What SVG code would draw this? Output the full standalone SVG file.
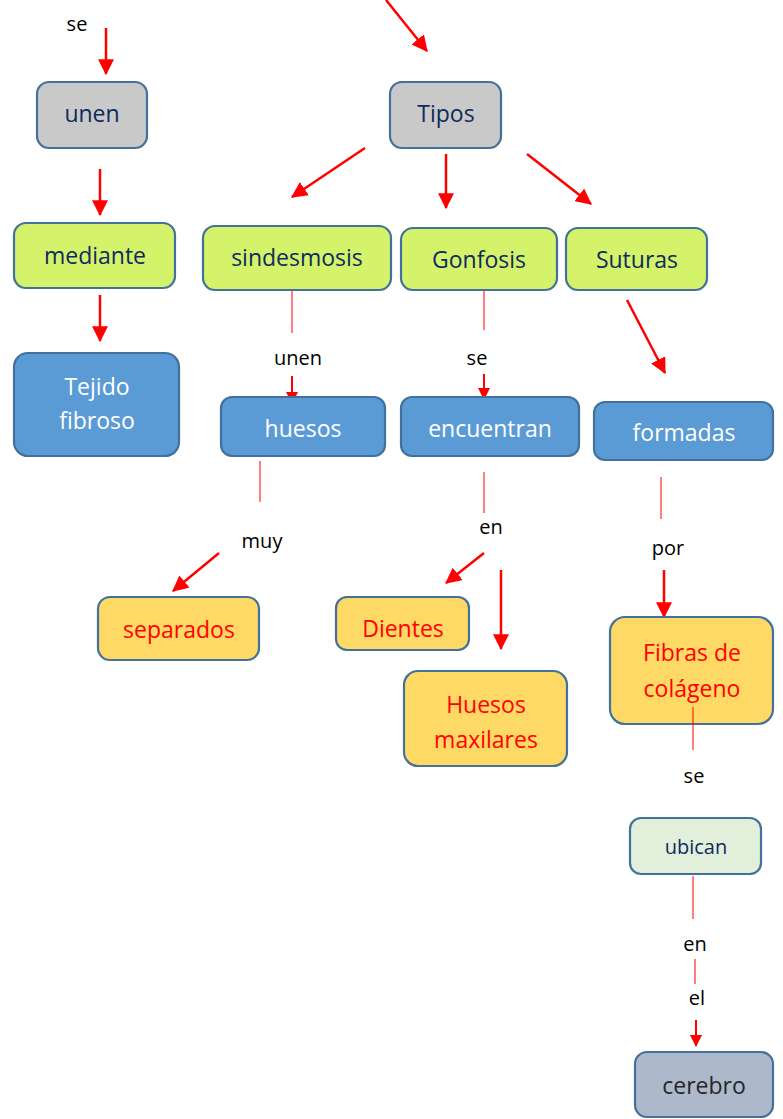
<svg xmlns="http://www.w3.org/2000/svg" width="783" height="1119" viewBox="0 0 783 1119">
<style>
.n{stroke:#41719c;stroke-width:2.2}
.gray{fill:#c9c9c9}
.lime{fill:#d5f26b}
.blue{fill:#5b9bd5}
.gold{fill:#ffd966}
.mint{fill:#e2efda}
.slate{fill:#adb9ca}
text{font-family:"Open Sans","Liberation Sans",sans-serif;text-anchor:middle}
.tn{fill:#0e2b5c;font-size:23px}
.tw{fill:#ffffff;font-size:23px}
.tr{fill:#ff0000;font-size:23px}
.lb{fill:#000000;font-size:20px}
.a{stroke:#ff0000;stroke-width:2.5;fill:none;marker-end:url(#ah)}
.as{stroke:#ff0000;stroke-width:2;fill:none;marker-end:url(#ahs)}
.l{stroke:#ff0000;stroke-width:1;fill:none}
</style>
<defs>
<marker id="ah" markerWidth="16" markerHeight="16" refX="13" refY="7" orient="auto" markerUnits="userSpaceOnUse" viewBox="0 0 14 14">
<path d="M0,0 L14,7 L0,14 Z" fill="#ff0000"/>
</marker>
<marker id="ahs" markerWidth="12" markerHeight="12" refX="11" refY="6" orient="auto" markerUnits="userSpaceOnUse" viewBox="0 0 12 12">
<path d="M0,0 L12,6 L0,12 Z" fill="#ff0000"/>
</marker>
</defs>

<g id="connectors">
<line class="a" x1="106" y1="28" x2="106" y2="74"/>
<line class="a" x1="386" y1="0" x2="427" y2="51"/>
<line class="a" x1="365" y1="148" x2="292" y2="197"/>
<line class="a" x1="446" y1="154" x2="446" y2="208"/>
<line class="a" x1="527" y1="154" x2="591" y2="204"/>
<line class="a" x1="100" y1="169" x2="100" y2="215"/>
<line class="a" x1="100" y1="295" x2="100" y2="341"/>
<line class="l" x1="292" y1="291" x2="292" y2="333"/>
<line class="as" x1="292" y1="376" x2="292" y2="403"/>
<line class="l" x1="484" y1="289" x2="484" y2="330"/>
<line class="as" x1="484" y1="374" x2="484" y2="399"/>
<line class="a" x1="627" y1="300" x2="665" y2="373"/>
<line class="l" x1="260" y1="461" x2="260" y2="502"/>
<line class="a" x1="219" y1="553" x2="173" y2="591"/>
<line class="l" x1="484" y1="472" x2="484" y2="513"/>
<line class="a" x1="484" y1="553" x2="446" y2="583"/>
<line class="a" x1="501" y1="570" x2="501" y2="649"/>
<line class="l" x1="661" y1="477" x2="661" y2="519"/>
<line class="a" x1="664" y1="570" x2="664" y2="617"/>
<line class="l" x1="693" y1="876" x2="693" y2="919"/>
<line class="l" x1="695" y1="959" x2="695" y2="984"/>
<line class="as" x1="696" y1="1020" x2="696" y2="1046"/>
</g>

<g id="n-unen"><rect class="n gray" x="37" y="82" width="110" height="66" rx="12"/><text class="tn" x="92" y="122">unen</text></g>
<g id="n-tipos"><rect class="n gray" x="390" y="82" width="111" height="66" rx="12"/><text class="tn" x="446" y="122">Tipos</text></g>
<g id="n-mediante"><rect class="n lime" x="14" y="223" width="161" height="65" rx="12"/><text class="tn" x="95" y="264">mediante</text></g>
<g id="n-tejido"><rect class="n blue" x="14" y="353" width="165" height="103" rx="14"/><text class="tw" x="97" y="395">Tejido</text><text class="tw" x="97" y="429">fibroso</text></g>
<g id="n-sindesmosis"><rect class="n lime" x="203" y="226" width="188" height="64" rx="12"/><text class="tn" x="297" y="266">sindesmosis</text></g>
<g id="n-gonfosis"><rect class="n lime" x="401" y="228" width="156" height="62" rx="12"/><text class="tn" x="479" y="268">Gonfosis</text></g>
<g id="n-suturas"><rect class="n lime" x="566" y="228" width="141" height="62" rx="12"/><text class="tn" x="637" y="268">Suturas</text></g>
<g id="n-huesos"><rect class="n blue" x="221" y="397" width="164" height="59" rx="11"/><text class="tw" x="303" y="437">huesos</text></g>
<g id="n-encuentran"><rect class="n blue" x="401" y="397" width="178" height="59" rx="11"/><text class="tw" x="490" y="437">encuentran</text></g>
<g id="n-formadas"><rect class="n blue" x="594" y="402" width="179" height="58" rx="11"/><text class="tw" x="684" y="441">formadas</text></g>
<g id="n-separados"><rect class="n gold" x="98" y="597" width="161" height="63" rx="12"/><text class="tr" x="179" y="638">separados</text></g>
<g id="n-dientes"><rect class="n gold" x="336" y="597" width="133" height="53" rx="11"/><text class="tr" x="403" y="637">Dientes</text></g>
<g id="n-maxilares"><rect class="n gold" x="404" y="671" width="163" height="95" rx="14"/><text class="tr" x="486" y="713">Huesos</text><text class="tr" x="486" y="748">maxilares</text></g>
<g id="n-fibras"><rect class="n gold" x="610" y="617" width="163" height="107" rx="15"/><text class="tr" x="692" y="661">Fibras de</text><text class="tr" x="692" y="697">colágeno</text></g>
<line class="l" x1="693" y1="707" x2="693" y2="750"/>
<g id="n-ubican"><rect class="n mint" x="630" y="818" width="131" height="56" rx="11"/><text class="tn" x="696" y="854" style="font-size:20px">ubican</text></g>
<g id="n-cerebro"><rect class="n slate" x="635" y="1052" width="138" height="65" rx="12"/><text class="tn" x="704" y="1094" style="fill:#262626">cerebro</text></g>

<g id="labels">
<text class="lb" x="77" y="31">se</text>
<text class="lb" x="298" y="365">unen</text>
<text class="lb" x="477" y="365">se</text>
<text class="lb" x="262" y="548">muy</text>
<text class="lb" x="491" y="534">en</text>
<text class="lb" x="668" y="555">por</text>
<text class="lb" x="694" y="783">se</text>
<text class="lb" x="695" y="951">en</text>
<text class="lb" x="697" y="1005">el</text>
</g>
</svg>
